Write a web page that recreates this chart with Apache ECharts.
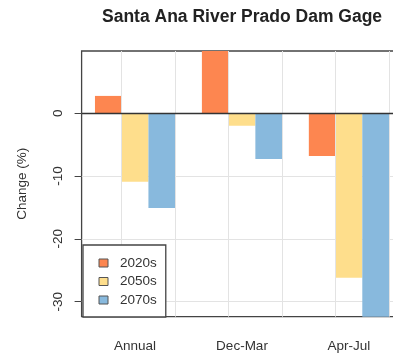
<!DOCTYPE html>
<html>
<head>
<meta charset="utf-8">
<script src="https://cdn.jsdelivr.net/npm/echarts@6/dist/echarts.min.js"></script>
<style>
  html, body { margin: 0; padding: 0; background: #fff; }
  #chart { width: 393px; height: 353px; }
</style>
</head>
<body>
<div id="chart"></div>
<script>
// Projected change in streamflow, Santa Ana River at Prado Dam
const categories = ['Annual', 'Dec-Mar', 'Apr-Jul'];
const periods = ['2020s', '2050s', '2070s'];
const change2020s = [2.75, 9.9, -6.8];
const change2050s = [-10.9, -2.0, -26.2];
const change2070s = [-15.1, -7.3, -32.4];
const yTicks = [-30, -20, -10, 0];
// vertical guide lines, in bar-width units (each group: 1 gap + 3 bars)
const guideUnits = [2, 4, 6, 8, 10, 12];

const seriesValues = [change2020s, change2050s, change2070s];
const colors = ['#FD8650', '#FEDE8C', '#88B9DD'];
const allValues = [].concat(change2020s, change2050s, change2070s);
const yMin = Math.min.apply(null, allValues);
const yMax = Math.max.apply(null, allValues);

const FONT = '"Liberation Sans", Arial, sans-serif';
const TEXT = '#333';

const chart = echarts.init(document.getElementById('chart'), null, { renderer: 'canvas' });

const barSeries = periods.map((p, i) => ({
  name: p,
  type: 'bar',
  data: seriesValues[i],
  barGap: '0%',
  barCategoryGap: '25%',
  itemStyle: { color: colors[i] },
  z: 2
}));

chart.setOption({
  animation: false,
  backgroundColor: '#fff',
  textStyle: { fontFamily: FONT },
  title: {
    text: 'Santa Ana River Prado Dam Gage',
    left: 97,
    top: 3,
    textStyle: { fontFamily: FONT, fontSize: 17.5, fontWeight: 'bold', color: '#222' }
  },
  grid: {
    left: 81.6,
    top: 51,
    width: 320.8,
    height: 265.7,
    outerBoundsMode: 'none',
    containLabel: false,
    show: true,
    borderColor: '#444',
    borderWidth: 1.3,
    backgroundColor: 'transparent'
  },
  legend: {
    data: periods,
    orient: 'vertical',
    left: 83,
    top: 245,
    padding: [10, 9, 9, 15.5],
    itemGap: 2.5,
    itemWidth: 9,
    itemHeight: 8,
    icon: 'rect',
    backgroundColor: '#fff',
    borderColor: '#444',
    borderWidth: 1.3,
    borderRadius: 0,
    itemStyle: { borderColor: '#555', borderWidth: 1 },
    textStyle: { fontFamily: FONT, fontSize: 13.5, color: TEXT, lineHeight: 16, padding: [0, 0, 0, 7] },
    z: 20
  },
  xAxis: [
    {
      type: 'category',
      data: categories,
      position: 'bottom',
      axisLine: { show: false, onZero: false },
      axisTick: { show: false },
      splitLine: { show: false },
      axisLabel: { margin: 23, fontSize: 13.5, color: TEXT, fontFamily: FONT }
    },
    {
      type: 'value',
      min: 0.5,
      max: 12.5,
      show: false
    }
  ],
  yAxis: {
    type: 'value',
    min: yMin,
    max: yMax,
    axisLine: { show: false },
    axisTick: { show: true, length: 7, customValues: yTicks, lineStyle: { color: '#444', width: 1 } },
    axisLabel: {
      customValues: yTicks,
      rotate: 90,
      margin: 16,
      fontSize: 13.5,
      color: TEXT,
      fontFamily: FONT
    },
    splitLine: { show: true, lineStyle: { color: '#e3e3e3', width: 1 } },
    name: 'Change (%)',
    nameLocation: 'middle',
    nameGap: 52,
    nameTextStyle: { fontSize: 13.5, color: TEXT, fontFamily: FONT }
  },
  series: [
    {
      type: 'line',
      xAxisIndex: 1,
      yAxisIndex: 0,
      data: [],
      silent: true,
      z: 1,
      markLine: {
        symbol: 'none',
        silent: true,
        label: { show: false },
        lineStyle: { color: '#e3e3e3', type: 'solid', width: 1 },
        data: guideUnits.map(u => ({ xAxis: u }))
      }
    }
  ].concat(barSeries, [
    {
      type: 'line',
      xAxisIndex: 1,
      yAxisIndex: 0,
      data: [],
      silent: true,
      z: 5,
      markLine: {
        symbol: 'none',
        silent: true,
        label: { show: false },
        lineStyle: { color: '#333', type: 'solid', width: 1.3 },
        data: [{ yAxis: 0 }]
      }
    }
  ])
});
</script>
</body>
</html>
